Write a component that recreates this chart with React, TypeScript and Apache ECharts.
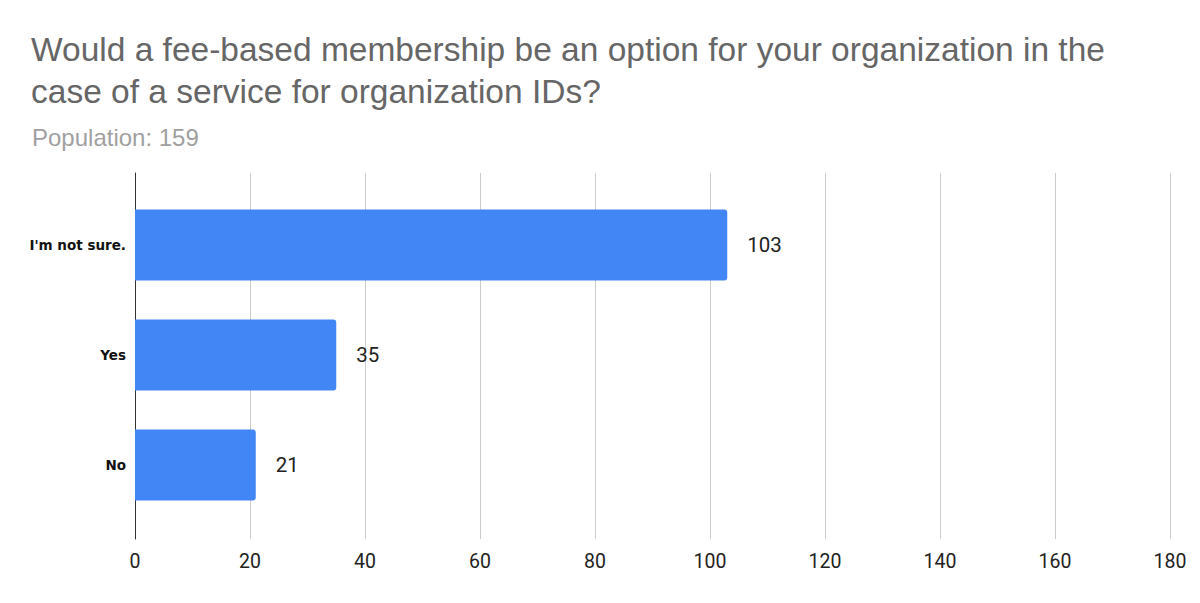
import React, { useEffect, useRef } from "react";
import * as echarts from "echarts";

const titleText = "Would a fee-based membership be an option for your organization in the\ncase of a service for organization IDs?";
const subtitleText = "Population: 159";
const categories = ["I'm not sure.", "Yes", "No"];
const values = [103, 35, 21];
const axisMin = 0;
const axisMax = 180;
const axisInterval = 20;

export default function App() {
  const ref = useRef<HTMLDivElement>(null);
  useEffect(() => {
    if (!ref.current) return;
    const chart = echarts.init(ref.current, undefined, { renderer: "svg" });
    chart.setOption({
      animation: false,
      backgroundColor: "#ffffff",
      title: [
        {
          text: titleText,
          left: 18,
          top: 15,
          textStyle: {
            fontFamily: "Liberation Sans",
            fontSize: 33.5,
            lineHeight: 42,
            fontWeight: "normal",
            color: "#666666",
          },
        },
        {
          text: subtitleText,
          left: 19,
          top: 112,
          textStyle: {
            fontFamily: "Liberation Sans",
            fontSize: 24,
            fontWeight: "normal",
            color: "#a0a0a0",
          },
        },
      ],
      grid: [
        { left: 127, right: 22, top: 165, bottom: 56, containLabel: false },
        { left: 127, right: 22, top: 182, bottom: 75, containLabel: false },
      ],
      xAxis: [
        {
          type: "value",
          gridIndex: 0,
          min: axisMin,
          max: axisMax,
          interval: axisInterval,
          axisLine: { show: false },
          axisTick: { show: false },
          splitLine: { show: true, lineStyle: { color: "#cccccc", width: 1 } },
          axisLabel: {
            color: "#222222",
            fontFamily: "Roboto",
            fontSize: 19.5,
            margin: 12,
          },
        },
        {
          type: "value",
          gridIndex: 1,
          min: axisMin,
          max: axisMax,
          interval: axisInterval,
          show: false,
        },
      ],
      yAxis: [
        {
          type: "value",
          gridIndex: 0,
          min: 0,
          max: 1,
          axisLine: { show: true, lineStyle: { color: "#333333", width: 1 } },
          axisTick: { show: false },
          axisLabel: { show: false },
          splitLine: { show: false },
        },
        {
          type: "category",
          gridIndex: 1,
          inverse: true,
          data: categories,
          axisLine: { show: false },
          axisTick: { show: false },
          splitLine: { show: false },
          axisLabel: {
            color: "#111111",
            fontFamily: "DejaVu Sans",
            fontWeight: "bold",
            fontSize: 13.5,
            margin: 9,
          },
        },
      ],
      series: [
        {
          type: "bar",
          xAxisIndex: 1,
          yAxisIndex: 1,
          data: values,
          barWidth: 71,
          itemStyle: { color: "#4285f4", borderRadius: [0, 3, 3, 0] },
          label: {
            show: true,
            position: "right",
            distance: 20,
            color: "#222222",
            fontFamily: "Roboto",
            fontSize: 20.5,
          },
        },
      ],
    });
    return () => chart.dispose();
  }, []);
  return <div ref={ref} style={{ width: 1184, height: 587 }} />;
}
